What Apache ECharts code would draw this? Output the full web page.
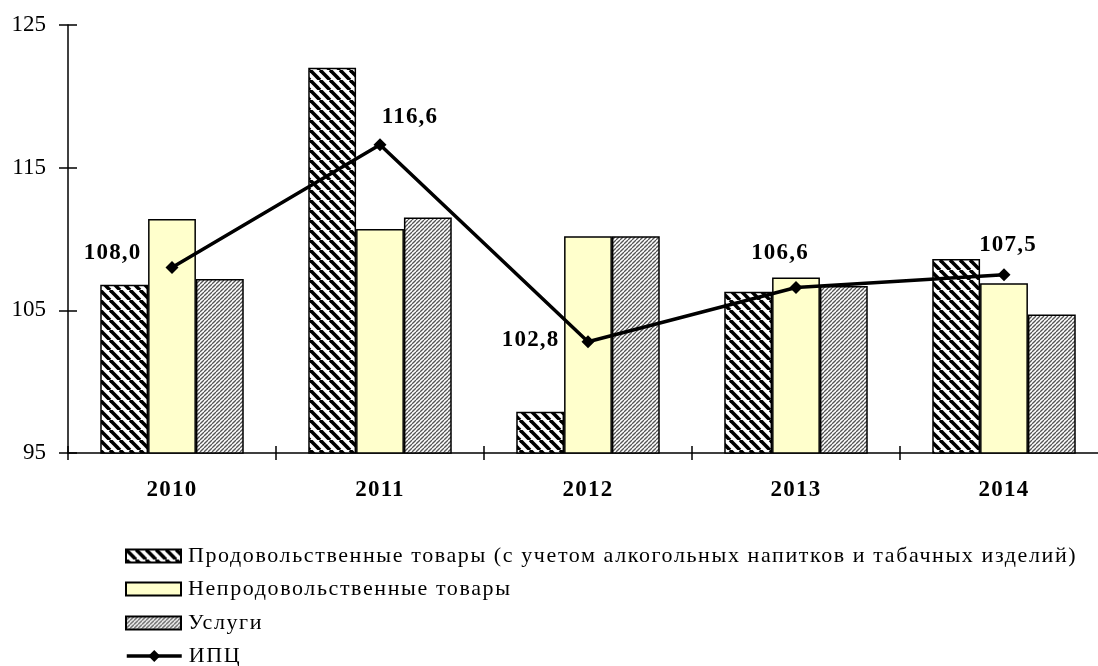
<!DOCTYPE html>
<html><head><meta charset="utf-8">
<script src="https://cdn.jsdelivr.net/npm/echarts@6/dist/echarts.min.js"></script>
<style>html,body{margin:0;padding:0;background:#fff;overflow:hidden;width:1098px;height:666px}#c{width:1108px;height:666px}</style>
</head><body><div id="c"></div>
<script>
const years = ['2010','2011','2012','2013','2014'];
const food = [106.8, 122.0, 97.9, 106.3, 108.6];
const nonFood = [111.4, 110.7, 110.2, 107.3, 106.9];
const services = [107.2, 111.5, 110.2, 106.7, 104.7];
const cpi = [108.0, 116.6, 102.8, 106.6, 107.5];
const cpiLabels = ['108,0','116,6','102,8','106,6','107,5'];
const yTicks = [95, 105, 115, 125];
const names = ['Продовольственные товары (с учетом алкогольных напитков и табачных изделий)','Непродовольственные товары','Услуги','ИПЦ'];

// letter spacing as in the reference (text stays real text)
(function(){
  const P = CanvasRenderingContext2D.prototype;
  const orig = P.fillText;
  function sp(t){
    if (names.indexOf(t) >= 0) return '1.6px';
    if (cpiLabels.indexOf(t) >= 0) return '1.2px';
    if (years.indexOf(t) >= 0) return '1.2px';
    return '0px';
  }
  P.fillText = function(t, x, y, m){
    if ('letterSpacing' in this) { this.letterSpacing = sp(String(t)); }
    return m === undefined ? orig.call(this, t, x, y) : orig.call(this, t, x, y, m);
  };
})();

function hatch(size, lw, color, dir) {
  const c = document.createElement('canvas');
  c.width = size; c.height = size;
  const ctx = c.getContext('2d');
  ctx.fillStyle = '#fff'; ctx.fillRect(0,0,size,size);
  ctx.strokeStyle = color; ctx.lineWidth = lw;
  for (let k = -1; k <= 1; k++) {
    ctx.beginPath();
    if (dir === 'back') { ctx.moveTo(k*size, 0); ctx.lineTo(k*size+size, size); }
    else { ctx.moveTo(k*size, size); ctx.lineTo(k*size+size, 0); }
    ctx.stroke();
  }
  return c;
}
const foodPat = {image: hatch(10, 3.6, '#000', 'back'), repeat: 'repeat'};
const servPat = {image: hatch(4, 1.3, '#555', 'fwd'), repeat: 'repeat'};

const labelCfg = [
  {position:'left', distance: 24, offset:[0,-14]},
  {position:'top', distance: 10, offset:[30,0]},
  {position:'left', distance: 22, offset:[0,-2]},
  {position:'top', distance: 16, offset:[-16,0]},
  {position:'top', distance: 12, offset:[4,0]}
];
const font = 'Liberation Serif, Times New Roman, serif';
const legendRows = [545, 578, 612, 645];
const legends = names.map((n, i) => ({
  orient:'vertical', left:125, top:legendRows[i], padding:0,
  itemWidth:55, itemHeight: i < 3 ? 13 : 15, itemGap:0,
  icon: i < 3 ? 'rect' : undefined,
  lineStyle: i < 3 ? undefined : {width:3.5, color:'#000'},
  textStyle:{fontFamily:font, fontSize:22, color:'#000', padding:[0,0,0,2]},
  data:[n]
}));
const chart = echarts.init(document.getElementById('c'));
const barBase = {type:'bar', xAxisIndex:0, yAxisIndex:0, barGap:'0%', barCategoryGap:'31%'};
chart.setOption({
  animation:false,
  grid:{left:68, right:0, top:25, bottom:213},
  legend: legends,
  xAxis:[
    {type:'category', data:years, position:'bottom',
     axisLine:{lineStyle:{color:'#000', width:1.5}},
     axisTick:{show:true, length:7, lineStyle:{color:'#000', width:1.5}},
     axisLabel:{fontFamily:font, fontSize:23, fontWeight:'bold', color:'#000', margin:26}},
    {type:'category', data:years, position:'bottom',
     axisLine:{show:false},
     axisTick:{show:true, inside:true, length:7, lineStyle:{color:'#000', width:1.5}},
     axisLabel:{show:false}}
  ],
  yAxis:[
    {type:'value', min:95, max:125, interval:10, position:'left',
     axisLine:{show:true, lineStyle:{color:'#000', width:1.5}},
     axisTick:{show:true, length:9, lineStyle:{color:'#000', width:1.5}},
     splitLine:{show:false},
     axisLabel:{fontFamily:font, fontSize:23, color:'#000', margin:22}},
    {type:'value', min:95, max:125, interval:10, position:'left',
     axisLine:{show:false},
     axisTick:{show:true, inside:true, length:9, lineStyle:{color:'#000', width:1.5}},
     splitLine:{show:false}, axisLabel:{show:false}}
  ],
  series:[
    Object.assign({}, barBase, {name:names[0], data:food, itemStyle:{color:foodPat, borderColor:'#000', borderWidth:1.5}}),
    Object.assign({}, barBase, {name:names[1], data:nonFood, itemStyle:{color:'#FFFFCC', borderColor:'#000', borderWidth:1.5}}),
    Object.assign({}, barBase, {name:names[2], data:services, itemStyle:{color:servPat, borderColor:'#000', borderWidth:1.5}}),
    {type:'line', name:names[3], xAxisIndex:0, yAxisIndex:0, z:5,
     symbol:'diamond', symbolSize:13,
     lineStyle:{color:'#000', width:3.5}, itemStyle:{color:'#000'},
     data: cpi.map((v,i)=>({value:v, label:Object.assign({show:true, formatter:cpiLabels[i], fontFamily:font, fontSize:23, fontWeight:'bold', color:'#000'}, labelCfg[i])}))}
  ]
});
</script></body></html>
